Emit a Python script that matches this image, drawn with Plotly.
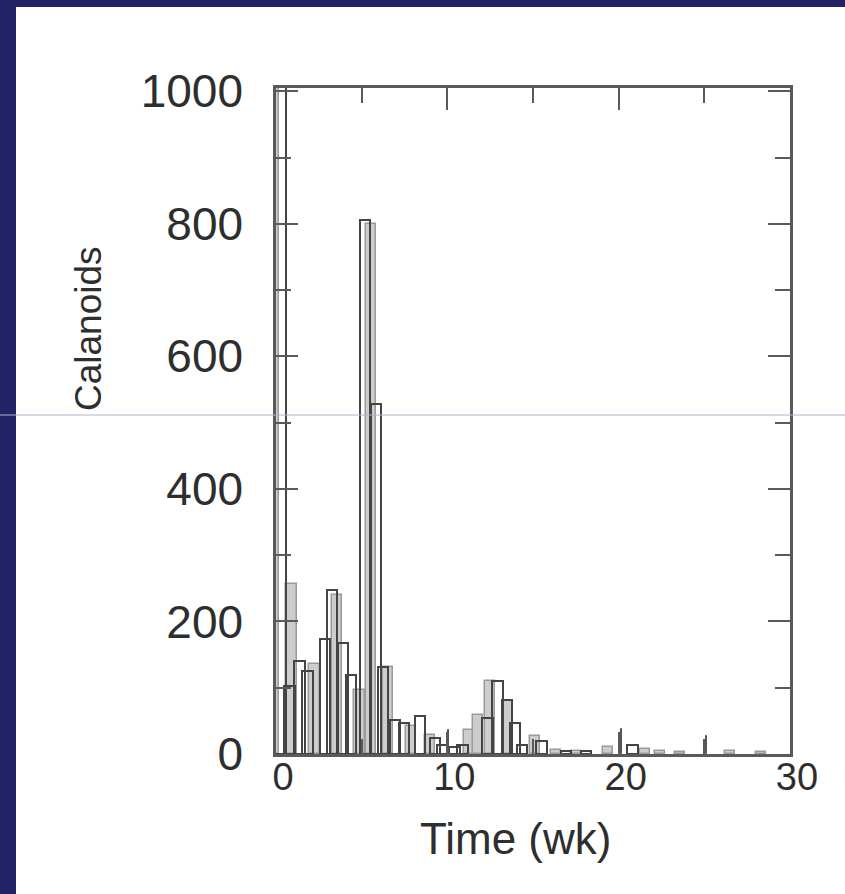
import plotly.graph_objects as go

# ---- data (weeks, Calanoid counts) ----
gray_weeks = [-0.15, 0.91, 2.25, 3.54, 4.88, 5.53, 6.52, 7.87, 8.98, 11.26, 11.78,
              12.49, 13.54, 15.12, 16.34, 17.51, 19.39, 21.55, 22.4, 23.6, 26.5, 28.3]
gray_values = [1010, 257, 136, 240, 96, 800, 132, 42, 29, 36, 59,
               110, 80, 27, 6, 5, 10, 8, 4, 3, 4, 3]

black_weeks = [0.26, 0.79, 1.37, 1.84, 2.87, 3.27, 3.89, 4.36, 5.20, 5.82, 6.23,
               6.93, 7.46, 8.39, 9.27, 9.68, 10.41, 10.88, 12.34, 12.92, 13.48,
               13.95, 14.36, 15.50, 16.93, 18.1, 20.8]
black_values = [1010, 102, 141, 125, 174, 247, 168, 119, 806, 528, 132,
                51, 47, 57, 24, 14, 10, 14, 54, 110, 81,
                47, 14, 20, 5, 4, 14]

spike_weeks = [10.09, 20.15, 25.12]
spike_values = [36, 38, 27]

x_tickvals = [0, 10, 20, 30]
x_minor = [5, 15, 25]
y_tickvals = [0, 200, 400, 600, 800, 1000]
y_minor = [100, 300, 500, 700, 900]

# plot-area geometry helpers (pixels -> paper)
L, R, T, B = 276, 790, 88, 754
W, H = R - L, B - T
def px(x):
    return (x - L) / W
def py(y):
    return (B - y) / H

FONT = "Liberation Sans, Arial"
TXT = "#2e2e2e"

fig = go.Figure()
fig.add_trace(go.Bar(x=gray_weeks, y=gray_values, width=0.6,
                     marker=dict(color="#cdcdcd", line=dict(color="#9a9a9a", width=1.5)),
                     showlegend=False))
fig.add_trace(go.Bar(x=black_weeks, y=black_values, width=0.6,
                     marker=dict(color="rgba(0,0,0,0)", line=dict(color="#444444", width=2)),
                     showlegend=False))
fig.add_trace(go.Bar(x=spike_weeks, y=spike_values, width=0.05,
                     marker=dict(color="#555555", line=dict(color="#555555", width=1)),
                     showlegend=False))

axis_common = dict(showline=True, linecolor="#5a5a5a", linewidth=2.5, mirror="ticks",
                   ticks="inside", tickcolor="#5a5a5a", tickwidth=2, ticklen=22,
                   showgrid=False, zeroline=False)

fig.update_xaxes(range=[0, 30], tickvals=x_tickvals, ticklabelshift=7,
                 ticklabelstandoff=-12,
                 tickfont=dict(family=FONT, size=38, color=TXT),
                 minor=dict(tickvals=x_minor, ticks="inside", ticklen=15,
                            tickcolor="#5a5a5a", tickwidth=2),
                 **axis_common)
fig.update_yaxes(range=[0, 1005], tickvals=y_tickvals, ticklabelstandoff=21,
                 tickfont=dict(family=FONT, size=46, color=TXT),
                 minor=dict(tickvals=y_minor, ticks="inside", ticklen=15,
                            tickcolor="#5a5a5a", tickwidth=2),
                 **axis_common)

fig.update_layout(
    width=845, height=894,
    margin=dict(l=L, r=845 - R, t=T, b=894 - B),
    paper_bgcolor="#222266", plot_bgcolor="white",
    barmode="overlay", bargap=0,
    shapes=[
        dict(type="rect", xref="paper", yref="paper", x0=px(16), x1=px(900),
             y0=py(950), y1=py(7), fillcolor="white", line=dict(width=0), layer="below"),
        dict(type="line", xref="paper", yref="paper", x0=px(0), x1=px(845),
             y0=py(415), y1=py(415), line=dict(color="#b4b4cc", width=1), layer="above"),
    ],
    annotations=[
        dict(text="Calanoids", xref="paper", yref="paper", x=px(88), y=py(329),
             textangle=-90, showarrow=False, xanchor="center", yanchor="middle",
             font=dict(family=FONT, size=37, color=TXT)),
        dict(text="Time (wk)", xref="paper", yref="paper", x=px(515), y=py(838),
             showarrow=False, xanchor="center", yanchor="middle",
             font=dict(family=FONT, size=44, color=TXT)),
    ],
)

fig.write_html("out.html")
